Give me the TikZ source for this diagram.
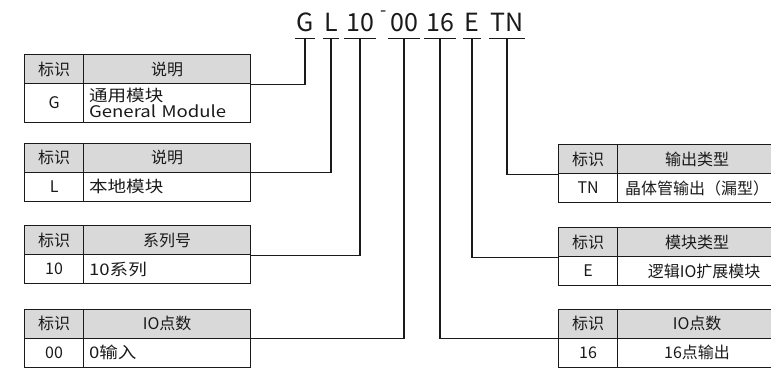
\documentclass[tikz,border=0pt]{standalone}
\usepackage{fontspec}
\newfontfamily\cjk{Noto Sans CJK SC}
\newfontfamily\cjkw[FakeStretch=1.16]{Noto Sans CJK SC}
\definecolor{hdr}{HTML}{D9D9D9}
\definecolor{ln}{HTML}{1A1A1A}
\begin{document}
\begin{tikzpicture}[x=1pt,y=-1pt,
  cell/.style={draw=ln, line width=1.2pt, inner sep=0pt, anchor=north west,
    font=\cjk\fontsize{16}{16}\selectfont, text=ln, minimum height=29pt},
  hd/.style={cell, fill=hdr},
  c1/.style={minimum width=59pt},
  lh2/.style={minimum width=167pt},
  lb2/.style={text width=156pt, inner xsep=5.5pt, align=left,
    font=\cjkw\fontsize{16}{15.5}\selectfont},
  rh2/.style={minimum width=159pt},
  rb2/.style={text width=147pt, inner xsep=6pt, align=center},
  code/.style={font=\cjk\fontsize{25}{25}\selectfont, text=ln, inner xsep=1.5pt,
    inner ysep=7pt, text depth=0pt, anchor=base},
  conn/.style={draw=ln, line width=1.2pt}]
\useasboundingbox (0,0) rectangle (771,367);
\clip (0,0) rectangle (771,367);

% code letters
\node[code] (cG) at (305,31) {G};
\node[code] (cL) at (331,31) {L};
\node[code] (c10) at (360,31) {10};
\node[code, inner ysep=0pt, anchor=center, font=\cjk\fontsize{18}{18}\selectfont] (cd) at (384,14) {-};
\node[code] (c00) at (404,31) {00};
\node[code] (c16) at (440,31) {16};
\node[code] (cE) at (472,31) {E};
\node[code] (cTN) at (507,31) {TN};
\foreach \n in {cG,cL,c10,c00,c16,cE,cTN}
  \draw[conn] (\n.south west) -- (\n.south east);

% left table 1
\node[hd, c1] (a1) at (24,54) {标识};
\node[hd, lh2] (a2) at (83,54) {说明};
\node[cell, c1, minimum height=39pt] (a3) at (24,83) {G};
\node[cell, lb2, minimum height=39pt] (a4) at (83,83) {通用模块\\General Module};
% left table 2
\node[hd, c1] (b1) at (24,142.5) {标识};
\node[hd, lh2] (b2) at (83,142.5) {说明};
\node[cell, c1] (b3) at (24,171.5) {L};
\node[cell, lb2] (b4) at (83,171.5) {本地模块};
% left table 3
\node[hd, c1] (d1) at (24,225) {标识};
\node[hd, lh2] (d2) at (83,225) {系列号};
\node[cell, c1] (d3) at (24,254) {10};
\node[cell, lb2] (d4) at (83,254) {10系列};
% left table 4
\node[hd, c1] (e1) at (24,308.5) {标识};
\node[hd, lh2] (e2) at (83,308.5) {IO点数};
\node[cell, c1] (e3) at (24,337.5) {00};
\node[cell, lb2] (e4) at (83,337.5) {0输入};

% right table 1
\node[hd, c1] (f1) at (558,144) {标识};
\node[hd, rh2] (f2) at (617,144) {输出类型};
\node[cell, c1] (f3) at (558,173) {TN};
\node[cell, rb2] (f4) at (617,173) {晶体管输出（漏型）};
% right table 2
\node[hd, c1] (h1) at (558,227) {标识};
\node[hd, rh2] (h2) at (617,227) {模块类型};
\node[cell, c1] (h3) at (558,256) {E};
\node[cell, rb2] (h4) at (617,256) {\hspace*{14pt}逻辑IO扩展模块};
% right table 3
\node[hd, c1] (k1) at (558,308.5) {标识};
\node[hd, rh2] (k2) at (617,308.5) {IO点数};
\node[cell, c1] (k3) at (558,337.5) {16};
\node[cell, rb2] (k4) at (617,337.5) {16点输出};

% connectors
\draw[conn] (cG.south) |- (a2.south east);
\draw[conn] (cL.south) |- (b2.south east);
\draw[conn] (c10.south) |- (d2.south east);
\draw[conn] (c00.south) |- (e2.south east);
\draw[conn] (c16.south) |- (k1.south west);
\draw[conn] (cE.south) |- (h1.south west);
\draw[conn] (cTN.south) |- (f1.south west);
\end{tikzpicture}
\end{document}
